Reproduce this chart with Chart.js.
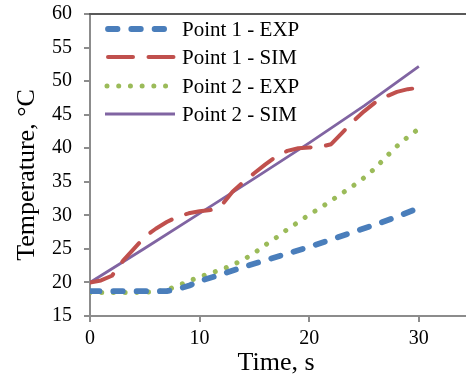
<!DOCTYPE html>
<html>
<head>
<meta charset="utf-8">
<style>
  html, body { margin: 0; padding: 0; background: #ffffff; }
  #wrap { width: 466px; height: 374px; }
</style>
<script src="https://cdn.jsdelivr.net/npm/chart.js@4/dist/chart.umd.min.js"></script>
</head>
<body>
<div id="wrap"><canvas id="c" width="466" height="374"></canvas></div>
<script>
// ---- Data ----
const seriesNames = ['Point 1 - EXP', 'Point 1 - SIM', 'Point 2 - EXP', 'Point 2 - SIM'];
const xTicks = [0, 10, 20, 30];
const yTicks = [15, 20, 25, 30, 35, 40, 45, 50, 55, 60];
const xTitle = 'Time, s';
const yTitle = 'Temperature, °C';

const p1ExpTime = [0, 2, 4, 6, 7, 8, 9, 10, 12, 14, 16, 18, 20, 22, 24, 26, 28, 30];
const p1ExpTemp = [18.7, 18.7, 18.7, 18.7, 18.7, 19.0, 19.5, 20.2, 21.2, 22.3, 23.3, 24.3, 25.3, 26.4, 27.5, 28.6, 29.8, 31.1];

const p1SimTime = [0, 1, 2, 3, 4, 5, 6, 7, 8, 9, 10, 11, 12, 13, 14, 15, 16, 17, 18, 19, 20, 21, 22, 23, 24, 25, 26, 27, 28, 29, 30];
const p1SimTemp = [20.0, 20.3, 21.0, 23.2, 25.0, 26.8, 28.0, 29.0, 29.8, 30.3, 30.6, 30.8, 31.5, 33.5, 35.0, 36.3, 37.6, 38.8, 39.6, 40.0, 40.1, 40.2, 40.6, 42.3, 44.0, 45.5, 46.8, 47.7, 48.4, 48.8, 49.0];

const p2ExpTime = [0, 2, 4, 6, 7, 8, 9, 10, 11, 12, 13, 14, 15, 16, 17, 18, 19, 20, 21, 22, 23, 24, 25, 26, 27, 28, 29, 30];
const p2ExpTemp = [18.5, 18.5, 18.5, 18.6, 18.9, 19.5, 20.2, 20.8, 21.4, 21.9, 22.6, 23.4, 24.4, 25.6, 26.7, 27.9, 29.0, 30.1, 31.1, 32.2, 33.3, 34.4, 35.6, 37.0, 38.7, 40.3, 41.7, 42.9];

const p2SimTime = [0, 5, 10, 15, 20, 25, 30];
const p2SimTemp = [20.0, 25.1, 30.3, 35.5, 40.8, 46.3, 52.2];

// ---- Helpers ----
function pts(xs, ys) { return xs.map((x, i) => ({ x: x, y: ys[i] })); }

const SERIF = '"Liberation Serif", "Times New Roman", serif';
const AXIS_GREY = '#8c8c8c';

const datasets = [
  { label: seriesNames[0], data: pts(p1ExpTime, p1ExpTemp), borderColor: '#4a7ebb', borderWidth: 5.8,
    borderDash: [9.5, 13.8], borderCapStyle: 'round' },
  { label: seriesNames[1], data: pts(p1SimTime, p1SimTemp), borderColor: '#c0504d', borderWidth: 4,
    borderDash: [25, 15.5], borderCapStyle: 'round' },
  { label: seriesNames[2], data: pts(p2ExpTime, p2ExpTemp), borderColor: '#9bbb59', borderWidth: 5,
    borderDash: [0.01, 11.7], borderCapStyle: 'round' },
  { label: seriesNames[3], data: pts(p2SimTime, p2SimTemp), borderColor: '#8064a2', borderWidth: 2.8,
    borderDash: [], borderCapStyle: 'butt' }
].map(d => Object.assign(d, { fill: false, pointRadius: 0, pointHoverRadius: 0, tension: 0, borderJoinStyle: 'round' }));

const decorPlugin = {
  id: 'decor',
  afterDraw(chart) {
    const ctx = chart.ctx;
    const a = chart.chartArea;
    ctx.save();
    // top border line
    ctx.strokeStyle = '#595959';
    ctx.lineWidth = 2;
    ctx.beginPath();
    ctx.moveTo(a.left - 1, a.top);
    ctx.lineTo(a.right, a.top);
    ctx.stroke();

    // legend
    const rows = [29, 57, 86, 114];
    chart.data.datasets.forEach((ds, i) => {
      const y = rows[i];
      ctx.save();
      ctx.strokeStyle = ds.borderColor;
      ctx.lineWidth = ds.borderWidth;
      ctx.lineCap = ds.borderCapStyle;
      ctx.setLineDash(ds.borderDash || []);
      ctx.beginPath();
      let x0 = 105, x1 = 175;
      if (i === 0) { x0 = 108; x1 = 170; }
      if (i === 1) { x0 = 108; x1 = 174; }
      if (i === 2) { x0 = 107; x1 = 170; }
      ctx.moveTo(x0, y);
      ctx.lineTo(x1, y);
      ctx.stroke();
      ctx.restore();
      ctx.fillStyle = '#000';
      ctx.font = '21px ' + SERIF;
      ctx.textAlign = 'left';
      ctx.textBaseline = 'middle';
      ctx.fillText(ds.label, 182, y + 1);
    });

    // axis titles
    ctx.fillStyle = '#000';
    ctx.font = '26px ' + SERIF;
    ctx.textAlign = 'center';
    ctx.textBaseline = 'alphabetic';
    ctx.fillText(xTitle, 276, 370);
    ctx.save();
    ctx.translate(34, 175);
    ctx.rotate(-Math.PI / 2);
    ctx.fillText(yTitle, 0, 0);
    ctx.restore();
    ctx.restore();
  }
};

new Chart(document.getElementById('c'), {
  type: 'line',
  data: { datasets: datasets },
  plugins: [decorPlugin],
  options: {
    responsive: false,
    animation: false,
    devicePixelRatio: 1,
    layout: { padding: { top: 14, left: 0, right: 0, bottom: 0 } },
    plugins: { legend: { display: false }, tooltip: { enabled: false }, title: { display: false } },
    scales: {
      x: {
        type: 'linear',
        min: 0,
        max: 34.3,
        afterBuildTicks(scale) { scale.ticks = xTicks.map(v => ({ value: v })); },
        afterFit(scale) { scale.height = 58; scale.paddingLeft = 0; scale.paddingRight = 0; },
        border: { display: true, color: AXIS_GREY, width: 2 },
        grid: { display: true, drawOnChartArea: false, drawTicks: true, tickLength: 6, color: AXIS_GREY, lineWidth: 2 },
        ticks: { color: '#000', font: { family: SERIF, size: 20 }, padding: 5, maxRotation: 0, autoSkip: false }
      },
      y: {
        type: 'linear',
        min: 15,
        max: 60,
        afterBuildTicks(scale) { scale.ticks = yTicks.map(v => ({ value: v })); },
        afterFit(scale) { scale.width = 90; scale.paddingTop = 0; scale.paddingBottom = 0; },
        border: { display: true, color: AXIS_GREY, width: 2 },
        grid: { display: true, drawOnChartArea: false, drawTicks: true, tickLength: 6, color: AXIS_GREY, lineWidth: 2 },
        ticks: { color: '#000', font: { family: SERIF, size: 20 }, padding: 12, autoSkip: false }
      }
    }
  }
});
</script>
</body>
</html>
